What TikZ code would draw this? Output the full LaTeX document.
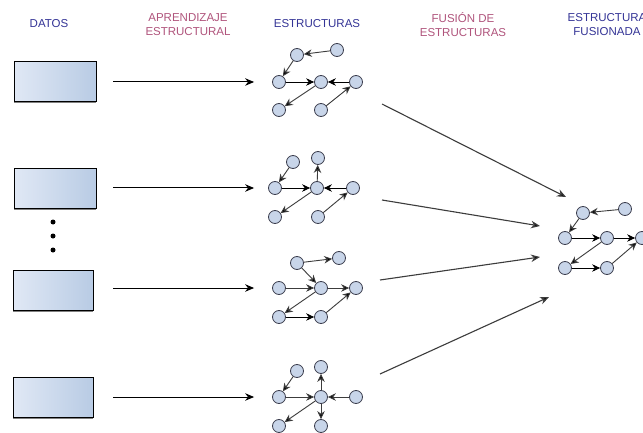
\documentclass[tikz,border=0pt]{standalone}
\usepackage{fontspec}
\setmainfont{Liberation Sans}
\usetikzlibrary{arrows.meta}
\definecolor{hdrblue}{RGB}{52,52,150}
\definecolor{hdrpink}{RGB}{176,84,124}
\definecolor{boxL}{RGB}{224,232,245}
\definecolor{boxR}{RGB}{184,203,228}
\definecolor{vfill}{RGB}{200,213,233}
\definecolor{vline}{RGB}{60,62,78}
\definecolor{eline}{RGB}{60,60,60}
\tikzset{
  hdr/.style={font=\fontsize{11.5}{14}\selectfont, align=center, inner sep=0pt},
  databox/.style={draw=black, line width=1.2pt, left color=boxL, right color=boxR,
    minimum width=#1, minimum height=40pt, inner sep=0pt, anchor=north west},
  vtx/.style={circle, draw=vline, line width=0.8pt, fill=vfill,
    minimum size=13pt, inner sep=0pt},
  edge/.style={draw=eline, line width=0.9pt,
    -{Stealth[length=8pt, width=7.5pt, fill=black]}},
  bigarrow/.style={draw=black, line width=1pt,
    -{Stealth[length=9pt, width=7.5pt]}},
  fuse/.style={draw=eline, line width=1.1pt,
    -{Stealth[length=9pt, width=7.5pt, fill=black]}},
  dot/.style={circle, fill=black, minimum size=5pt, inner sep=0pt}
}
\begin{document}
\begin{tikzpicture}[x=1pt, y=-1pt]
\useasboundingbox (0,0) rectangle (643,433);
\fill[white] (0,0) rectangle (643,433);

% column headings
\node[hdr, text=hdrblue] (hdata) at (49,24) {DATOS};
\node[hdr, text=hdrpink] (hlearn) at (188,25) {APRENDIZAJE\\ESTRUCTURAL};
\node[hdr, text=hdrblue] (hstruct) at (317,24) {ESTRUCTURAS};
\node[hdr, text=hdrpink] (hfuse) at (463,25) {FUSIÓN DE\\ESTRUCTURAS};
\node[hdr, text=hdrblue] (hfused) at (607,25) {ESTRUCTURA\\FUSIONADA};

% data sets
\foreach \n/\x/\y/\w in {d1/14/61/82, d2/14/168/82, d3/13/270/80, d4/13/377/80}{
  \draw[gray, line width=1pt] (\x,\y+41.5) -- (\x+\w,\y+41.5);
  \node[databox=\w pt] (\n) at (\x,\y) {};
}
\node[dot] (e1) at (53,222) {};
\node[dot] (e2) at (53,236) {};
\node[dot] (e3) at (53,250) {};

% learned structure 1
\node[vtx] (s1a) at (297,55) {};
\node[vtx] (s1b) at (337,50) {};
\node[vtx] (s1l) at (279,82) {};
\node[vtx] (s1m) at (321,82) {};
\node[vtx] (s1r) at (356,82) {};
\node[vtx] (s1p) at (279,110) {};
\node[vtx] (s1q) at (321,110) {};
\draw[edge] (s1b) -- (s1a);
\draw[edge] (s1a) -- (s1l);
\draw[edge, draw=black] (s1l) -- (s1m);
\draw[edge, draw=black] (s1r) -- (s1m);
\draw[edge] (s1m) -- (s1p);
\draw[edge] (s1q) -- (s1r);

% learned structure 2
\node[vtx] (s2a) at (293,162) {};
\node[vtx] (s2t) at (318,158) {};
\node[vtx] (s2l) at (275,188) {};
\node[vtx] (s2m) at (317,188) {};
\node[vtx] (s2r) at (353,188) {};
\node[vtx] (s2p) at (275,217) {};
\node[vtx] (s2q) at (318,217) {};
\draw[edge] (s2a) -- (s2l);
\draw[edge, draw=black] (s2l) -- (s2m);
\draw[edge, draw=black] (s2r) -- (s2m);
\draw[edge] (s2m) -- (s2t);
\draw[edge] (s2m) -- (s2p);
\draw[edge] (s2q) -- (s2r);

% learned structure 3
\node[vtx] (s3a) at (297,263) {};
\node[vtx] (s3b) at (339,258) {};
\node[vtx] (s3l) at (279,288) {};
\node[vtx] (s3m) at (321,288) {};
\node[vtx] (s3r) at (356,288) {};
\node[vtx] (s3p) at (279,317) {};
\node[vtx] (s3q) at (321,317) {};
\draw[edge] (s3a) -- (s3b);
\draw[edge] (s3a) -- (s3m);
\draw[edge] (s3l) -- (s3m);
\draw[edge] (s3m) -- (s3r);
\draw[edge] (s3m) -- (s3p);
\draw[edge, draw=black] (s3p) -- (s3q);
\draw[edge] (s3q) -- (s3r);

% learned structure 4
\node[vtx] (s4a) at (297,371) {};
\node[vtx] (s4t) at (321,367) {};
\node[vtx] (s4l) at (279,397) {};
\node[vtx] (s4m) at (321,397) {};
\node[vtx] (s4r) at (356,397) {};
\node[vtx] (s4p) at (279,426) {};
\node[vtx] (s4q) at (321,426) {};
\draw[edge] (s4a) -- (s4l);
\draw[edge] (s4l) -- (s4m);
\draw[edge] (s4r) -- (s4m);
\draw[edge] (s4m) -- (s4t);
\draw[edge] (s4m) -- (s4q);
\draw[edge] (s4m) -- (s4p);

% fused structure
\node[vtx] (fa) at (583,213) {};
\node[vtx] (fb) at (625,209) {};
\node[vtx] (fl) at (565,238) {};
\node[vtx] (fm) at (607,238) {};
\node[vtx] (fr) at (642,238) {};
\node[vtx] (fp) at (565,268) {};
\node[vtx] (fq) at (607,268) {};
\draw[edge] (fb) -- (fa);
\draw[edge] (fa) -- (fl);
\draw[edge, draw=black] (fl) -- (fm);
\draw[edge, draw=black] (fm) -- (fr);
\draw[edge] (fm) -- (fp);
\draw[edge, draw=black] (fp) -- (fq);
\draw[edge] (fq) -- (fr);

% structure learning arrows
\draw[bigarrow, shorten <=16pt, shorten >=18pt] (d1.east |- s1l) -- (s1l);
\draw[bigarrow, shorten <=16pt, shorten >=14pt] (d2.east |- s2l) -- (s2l);
\draw[bigarrow, shorten <=19pt, shorten >=18pt] (d3.east |- s3l) -- (s3l);
\draw[bigarrow, shorten <=19pt, shorten >=18pt] (d4.east |- s4l) -- (s4l);

% fusion arrows
\coordinate (f1s) at (382,104);
\coordinate (f1e) at (566,197);
\coordinate (f2s) at (382,200);
\coordinate (f2e) at (540,226);
\coordinate (f3s) at (380,280);
\coordinate (f3e) at (540,257);
\coordinate (f4s) at (380,374);
\coordinate (f4e) at (549,297);
\draw[fuse] (f1s) -- (f1e);
\draw[fuse] (f2s) -- (f2e);
\draw[fuse] (f3s) -- (f3e);
\draw[fuse] (f4s) -- (f4e);
\end{tikzpicture}
\end{document}
